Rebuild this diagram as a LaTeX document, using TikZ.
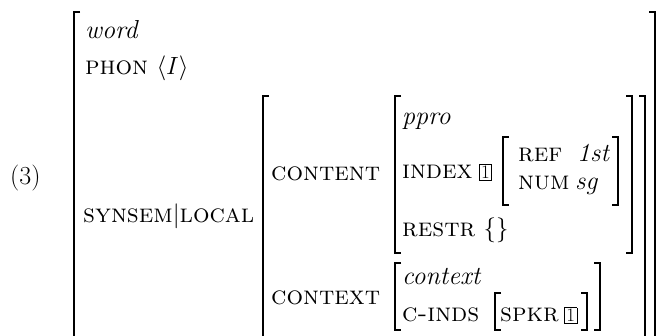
\documentclass[tikz,border=0pt]{standalone}
\usepackage{fontspec}
\usepackage{tikz}
\usetikzlibrary{positioning}

% boxed tag for structure sharing
\newcommand{\tagnum}[1]{{\setlength{\fboxsep}{1.5pt}\setlength{\fboxrule}{0.6pt}%
  \fbox{\fontsize{19}{19}\selectfont #1}}}

\begin{document}
\begin{tikzpicture}[x=1pt, y=-1pt,
  font=\fontsize{26}{31}\selectfont,
  lbl/.style={inner sep=0pt, anchor=base west},
  brk/.style={line width=1.5pt}]

\useasboundingbox (0,0) rectangle (658,336);

\node[lbl] (exnum) at (10,185) {(3)};

% top level
\node[lbl] (wtype) at (85,39) {\textit{word}};
\node[lbl] (phon) at (85,75) {\textsc{phon}};
\node[lbl, right=8pt of phon.base east, anchor=base west] (phonval) {$\big\langle I\big\rangle$};
\node[lbl] (synloc) at (83,223) {\textsc{synsem}$|$\textsc{local}};

% local value
\node[lbl] (cont) at (271,181) {\textsc{content}};
\node[lbl] (ctxt) at (271,305) {\textsc{context}};

% content value
\node[lbl] (ptype) at (402,125) {\textit{ppro}};
\node[lbl] (index) at (402,179) {\textsc{index}};
\node[lbl, right=6pt of index.base east, anchor=base west] (itag) {\tagnum{1}};
\node[lbl] (ref) at (518,162) {\textsc{ref}};
\node[lbl] (refval) at (577,162) {\textit{1st}};
\node[lbl] (num) at (518,190) {\textsc{num}};
\node[lbl] (numval) at (575,190) {\textit{sg}};
\node[lbl] (restr) at (402,237) {\textsc{restr}};
\node[lbl, right=8pt of restr.base east, anchor=base west] (restrval) {$\{\}$};

% context value
\node[lbl] (ctype) at (402,285) {\textit{context}};
\node[lbl] (cinds) at (402,322) {\textsc{c-inds}};
\node[lbl] (spkr) at (500,322) {\textsc{spkr}};
\node[lbl, right=5pt of spkr.base east, anchor=base west] (stag) {\tagnum{1}};

% brackets
\draw[brk] (80,12) -- (74,12) -- (74,336);
\draw[brk] (649,12) -- (655,12) -- (655,336);
\draw[brk] (269,96) -- (263,96) -- (263,336);
\draw[brk] (639,96) -- (645,96) -- (645,336);
\draw[brk] (401,96) -- (395,96) -- (395,253) -- (401,253);
\draw[brk] (626,96) -- (632,96) -- (632,253) -- (626,253);
\draw[brk] (509,137) -- (503,137) -- (503,205) -- (509,205);
\draw[brk] (612,137) -- (618,137) -- (618,205) -- (612,205);
\draw[brk] (401,263) -- (395,263) -- (395,330) -- (401,330);
\draw[brk] (594,263) -- (600,263) -- (600,330) -- (594,330);
\draw[brk] (501,293) -- (495,293) -- (495,330) -- (501,330);
\draw[brk] (581,293) -- (587,293) -- (587,330) -- (581,330);
\end{tikzpicture}
\end{document}
